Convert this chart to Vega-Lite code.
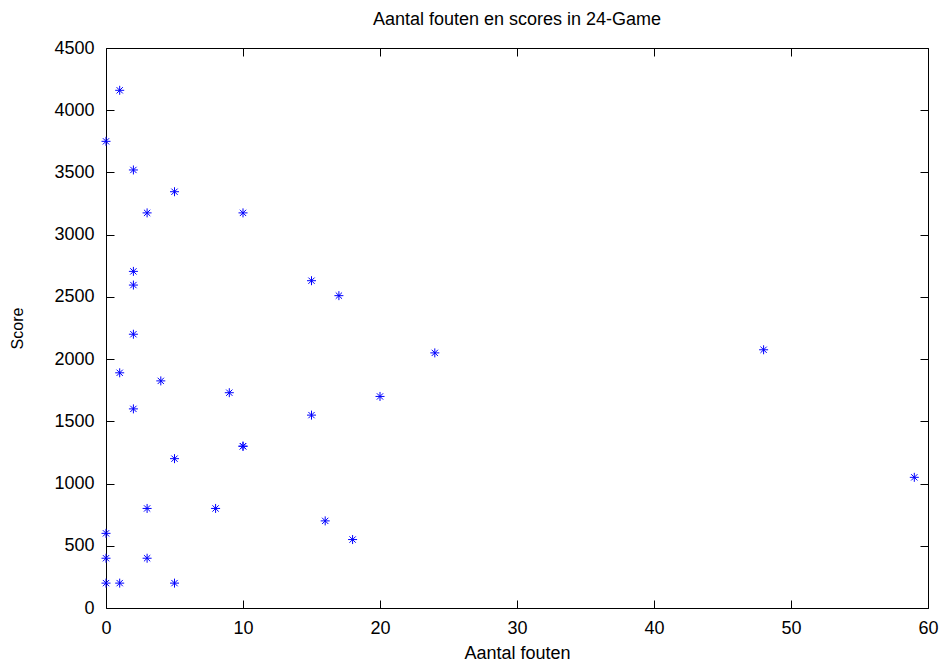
{
  "$schema": "https://vega.github.io/schema/vega-lite/v6.json",
  "autosize": "none",
  "width": 822,
  "height": 560,
  "padding": {"left": 106, "top": 48, "right": 14, "bottom": 55},
  "background": "white",
  "config": {
    "font": "Liberation Sans",
    "view": {"stroke": "black", "strokeWidth": 1},
    "axis": {"grid": false, "domain": false, "tickColor": "black", "tickWidth": 1, "labelColor": "black", "titleColor": "black", "labelFontSize": 18, "titleFontSize": 18, "titleFontWeight": "normal", "labelFont": "Liberation Sans", "titleFont": "Liberation Sans", "tickSize": 8, "offset": -8, "labelFlush": false, "labelOverlap": false, "format": "d"}
  },
  "title": {"text": "Aantal fouten en scores in 24-Game", "fontSize": 18, "fontWeight": "normal", "font": "Liberation Sans", "color": "black", "offset": 10},
  "data": {"values": [
    {"fouten": 0, "score": 3750}, {"fouten": 1, "score": 4160}, {"fouten": 2, "score": 3520},
    {"fouten": 3, "score": 3175}, {"fouten": 5, "score": 3345}, {"fouten": 10, "score": 3175},
    {"fouten": 2, "score": 2705}, {"fouten": 2, "score": 2595}, {"fouten": 2, "score": 2200},
    {"fouten": 15, "score": 2630}, {"fouten": 17, "score": 2510}, {"fouten": 1, "score": 1890},
    {"fouten": 4, "score": 1825}, {"fouten": 24, "score": 2050}, {"fouten": 48, "score": 2075},
    {"fouten": 9, "score": 1730}, {"fouten": 20, "score": 1700}, {"fouten": 2, "score": 1600},
    {"fouten": 15, "score": 1550}, {"fouten": 10, "score": 1300}, {"fouten": 10, "score": 1300},
    {"fouten": 5, "score": 1200}, {"fouten": 3, "score": 800}, {"fouten": 8, "score": 800},
    {"fouten": 0, "score": 600}, {"fouten": 0, "score": 400}, {"fouten": 3, "score": 400},
    {"fouten": 0, "score": 200}, {"fouten": 1, "score": 200}, {"fouten": 5, "score": 200},
    {"fouten": 16, "score": 700}, {"fouten": 18, "score": 550}, {"fouten": 59, "score": 1050}
  ]},
  "layer": [
    {
      "mark": {"type": "point", "shape": "M-1,0L1,0M0,-1L0,1M-0.7,-0.7L0.7,0.7M-0.7,0.7L0.7,-0.7", "filled": false, "stroke": "#0000ff", "strokeWidth": 1, "size": 81, "opacity": 1, "clip": false},
      "encoding": {
        "x": {"field": "fouten", "type": "quantitative", "scale": {"domain": [0, 60], "nice": false, "zero": false}, "axis": {"orient": "bottom", "title": "Aantal fouten", "values": [0, 10, 20, 30, 40, 50, 60], "labelPadding": 11, "titleY": 44}},
        "y": {"field": "score", "type": "quantitative", "scale": {"domain": [0, 4500], "nice": false, "zero": false}, "axis": {"orient": "left", "title": "Score", "titleFontSize": 16, "values": [0, 500, 1000, 1500, 2000, 2500, 3000, 3500, 4000, 4500], "labelPadding": 12, "titleX": -89}}
      }
    },
    {
      "mark": {"type": "point", "opacity": 0},
      "encoding": {
        "x": {"field": "fouten", "type": "quantitative", "scale": {"domain": [0, 60], "nice": false, "zero": false}, "axis": {"orient": "top", "title": null, "labels": false, "values": [0, 10, 20, 30, 40, 50, 60]}},
        "y": {"field": "score", "type": "quantitative", "scale": {"domain": [0, 4500], "nice": false, "zero": false}, "axis": {"orient": "right", "title": null, "labels": false, "values": [0, 500, 1000, 1500, 2000, 2500, 3000, 3500, 4000, 4500]}}
      }
    }
  ],
  "resolve": {"axis": {"x": "independent", "y": "independent"}}
}
